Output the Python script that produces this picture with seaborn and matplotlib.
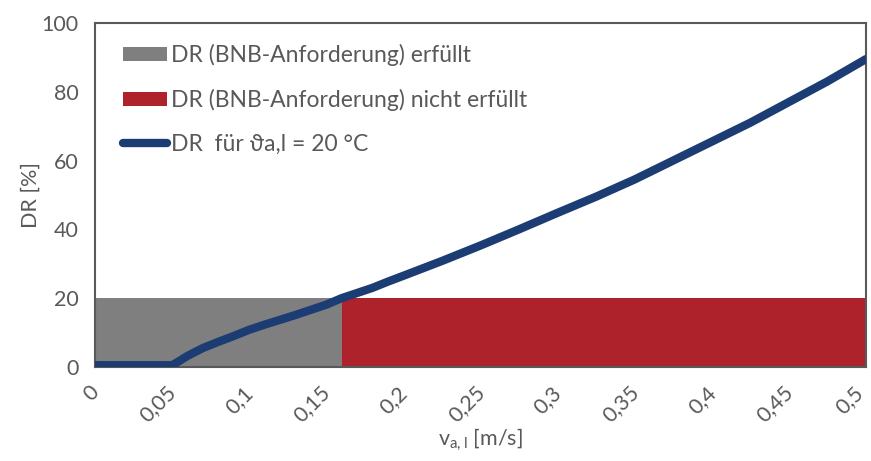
import matplotlib
matplotlib.use("Agg")
import matplotlib.pyplot as plt
import matplotlib.transforms as mtransforms
from matplotlib.ticker import MultipleLocator, FuncFormatter
from matplotlib.patches import Patch
from matplotlib.lines import Line2D
import seaborn as sns
import pandas as pd

# --- data ---
velocity = [0.0, 0.05, 0.055, 0.06, 0.07, 0.08, 0.09, 0.10, 0.11, 0.12, 0.13,
            0.14, 0.15, 0.16, 0.17, 0.18, 0.19, 0.20, 0.225, 0.25, 0.275, 0.30,
            0.325, 0.35, 0.375, 0.40, 0.425, 0.45, 0.475, 0.50]
dr_values = [0.5, 0.5, 1.8, 3.2, 5.5, 7.3, 9.0, 10.8, 12.3, 13.7, 15.1,
             16.6, 18.1, 20.0, 21.5, 23.0, 24.8, 26.5, 30.8, 35.3, 40.0, 44.8,
             49.5, 54.5, 60.0, 65.5, 71.0, 77.0, 83.0, 89.5]
limit_v = 0.16
limit_dr = 20
v_max = 0.5
label_ok = "DR (BNB-Anforderung) erfüllt"
label_fail = "DR (BNB-Anforderung) nicht erfüllt"
label_line = "DR  für ϑa,l = 20 °C"
x_label = r"v$_\mathregular{a,l}$ [m/s]"
y_label = "DR [%]"

sns.set_theme(style="white")
plt.rcParams['font.family'] = ['Lato', 'DejaVu Sans']
plt.rcParams['mathtext.fontset'] = 'custom'
plt.rcParams['mathtext.rm'] = 'Lato'

text_c = "#595959"
grey_c = "#7f7f7f"
red_c = "#ae222c"
blue_c = "#1c3c74"

fig = plt.figure(figsize=(8.71, 4.61), dpi=100)
ax = fig.add_axes([0.109, 0.204, 0.885, 0.746])

ax.bar([0], [limit_dr], width=limit_v, align='edge', color=grey_c, linewidth=0, zorder=1)
ax.bar([limit_v], [limit_dr], width=v_max - limit_v, align='edge', color=red_c, linewidth=0, zorder=1)

df = pd.DataFrame({"v": velocity, "dr": dr_values})
sns.lineplot(data=df, x="v", y="dr", ax=ax, color=blue_c, linewidth=6,
             solid_capstyle='round', zorder=3)

ax.set_xlim(0, v_max)
ax.set_ylim(0, 100)
ax.xaxis.set_major_locator(MultipleLocator(0.05))
ax.xaxis.set_minor_locator(MultipleLocator(0.025))
ax.yaxis.set_major_locator(MultipleLocator(20))
ax.yaxis.set_minor_locator(MultipleLocator(5))

def fmt_x(v, pos):
    s = f"{v:.2f}".rstrip('0').rstrip('.')
    return s.replace('.', ',')
ax.xaxis.set_major_formatter(FuncFormatter(fmt_x))

for sp in ax.spines.values():
    sp.set_color(text_c)
    sp.set_linewidth(1.5)
    sp.set_visible(True)

ax.tick_params(axis='both', which='both', direction='out', color=text_c, width=1.3,
               labelcolor=text_c, labelsize=15.5)
ax.tick_params(axis='both', which='both', length=6)
ax.tick_params(axis='x', pad=5)
ax.tick_params(axis='y', pad=6)

fig.canvas.draw()
for tick in ax.xaxis.get_major_ticks():
    lbl = tick.label1
    pos = tick.get_loc()
    shift = -13 if abs(pos - v_max) < 1e-6 else -6
    offset = mtransforms.ScaledTranslation(shift / 100, 0, fig.dpi_scale_trans)
    lbl.set_rotation(45)
    lbl.set_ha('right')
    lbl.set_rotation_mode('anchor')
    lbl.set_transform(lbl.get_transform() + offset)

ax.set_xlabel(x_label, color=text_c, fontsize=15.5, labelpad=0)
ax.set_ylabel(y_label, color=text_c, fontsize=15.5)
ax.yaxis.set_label_coords(-0.071, 0.5)

handles = [Patch(facecolor=grey_c, edgecolor='none'),
           Patch(facecolor=red_c, edgecolor='none'),
           Line2D([0], [0], color=blue_c, linewidth=6, solid_capstyle='round')]
leg = ax.legend(handles, [label_ok, label_fail, label_line], loc='upper left',
                bbox_to_anchor=(0.01, 1.0), frameon=False, fontsize=16.5,
                handlelength=1.9, handleheight=0.55, handletextpad=0.2,
                labelspacing=1.0, labelcolor=text_c)

fig.savefig("out.png", dpi=100)
